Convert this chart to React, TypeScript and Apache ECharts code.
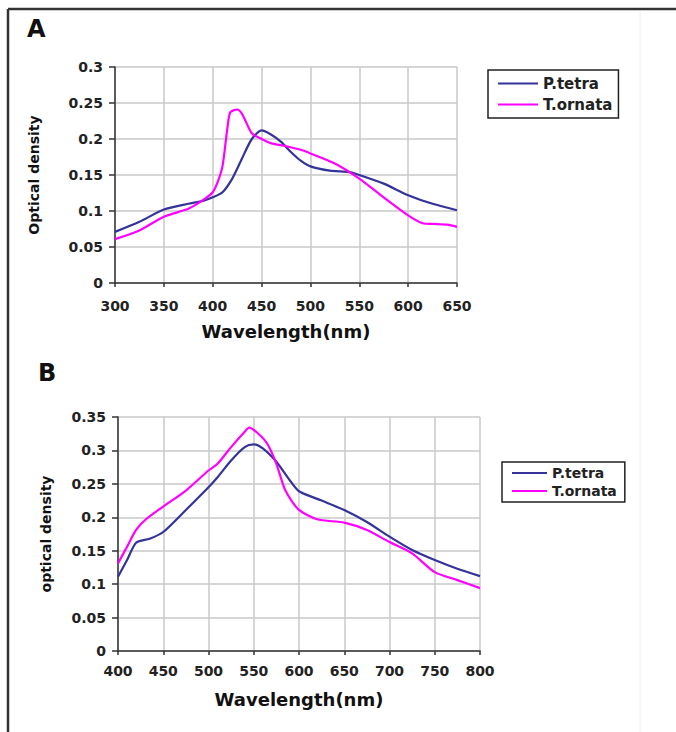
import React, { useEffect, useRef } from "react";
import * as echarts from "echarts";

// ---- Data ----
const seriesNames = ["P.tetra", "T.ornata"];

// Panel A
const aXTicks = [300, 350, 400, 450, 500, 550, 600, 650];
const aYTicks = [0, 0.05, 0.1, 0.15, 0.2, 0.25, 0.3];
const aPtetraWl = [300, 325, 350, 375, 390, 400, 410, 420, 430, 440, 450, 460, 470, 480, 490, 500, 520, 540, 550, 575, 600, 625, 650];
const aPtetraOD = [0.071, 0.085, 0.102, 0.110, 0.114, 0.119, 0.126, 0.145, 0.173, 0.200, 0.212, 0.206, 0.196, 0.182, 0.170, 0.162, 0.156, 0.154, 0.150, 0.138, 0.122, 0.110, 0.101];
const aTornataWl = [300, 325, 350, 375, 390, 400, 405, 410, 415, 418, 425, 430, 440, 450, 460, 475, 490, 500, 525, 550, 575, 600, 615, 625, 640, 650];
const aTornataOD = [0.061, 0.073, 0.092, 0.103, 0.115, 0.126, 0.140, 0.162, 0.215, 0.237, 0.241, 0.235, 0.208, 0.200, 0.194, 0.190, 0.185, 0.180, 0.166, 0.145, 0.119, 0.094, 0.083, 0.082, 0.081, 0.078];

// Panel B
const bXTicks = [400, 450, 500, 550, 600, 650, 700, 750, 800];
const bYTicks = [0, 0.05, 0.1, 0.15, 0.2, 0.25, 0.3, 0.35];
const bPtetraWl = [400, 410, 420, 435, 450, 475, 500, 510, 525, 540, 550, 560, 575, 590, 600, 625, 650, 675, 700, 725, 750, 775, 800];
const bPtetraOD = [0.111, 0.136, 0.162, 0.168, 0.178, 0.211, 0.245, 0.260, 0.285, 0.305, 0.309, 0.303, 0.283, 0.255, 0.239, 0.225, 0.211, 0.193, 0.171, 0.151, 0.136, 0.123, 0.112];
const bTornataWl = [400, 410, 420, 430, 450, 475, 500, 510, 525, 540, 545, 555, 565, 575, 585, 600, 620, 650, 675, 700, 725, 750, 775, 800];
const bTornataOD = [0.131, 0.156, 0.181, 0.196, 0.216, 0.240, 0.270, 0.280, 0.305, 0.328, 0.334, 0.325, 0.310, 0.280, 0.240, 0.211, 0.197, 0.192, 0.181, 0.163, 0.146, 0.118, 0.106, 0.094];

const BLUE = "#333399";
const MAGENTA = "#ff00ff";
const FONT = "DejaVu Sans";

const pairs = (xs: number[], ys: number[]) => xs.map((x, i) => [x, ys[i]]);
const fmt = (v: number) => (v === 0 ? "0" : String(Math.round(v * 100) / 100));

function makeX(gridIndex: number, ticks: number[], margin: number, nameGap: number) {
  return {
    type: "value",
    gridIndex,
    min: ticks[0],
    max: ticks[ticks.length - 1],
    interval: ticks[1] - ticks[0],
    name: "Wavelength(nm)",
    nameLocation: "middle",
    nameGap,
    nameTextStyle: { fontFamily: FONT, fontWeight: "bold", fontSize: 18, color: "#111" },
    axisLine: { show: true, onZero: false, lineStyle: { color: "#333", width: 1.5 } },
    axisTick: { show: true, length: 4, lineStyle: { color: "#333", width: 1.5 } },
    axisLabel: { margin, fontFamily: FONT, fontWeight: "bold", fontSize: 14, color: "#222", formatter: (v: number) => String(v) },
    splitLine: { show: true, lineStyle: { color: "#c8c8c8", width: 1.5 } },
  };
}

function makeY(gridIndex: number, ticks: number[], name: string, nameGap: number) {
  return {
    type: "value",
    gridIndex,
    min: ticks[0],
    max: ticks[ticks.length - 1],
    interval: ticks[1] - ticks[0],
    name,
    nameLocation: "middle",
    nameGap,
    nameRotate: 90,
    nameTextStyle: { fontFamily: FONT, fontWeight: "bold", fontSize: 14, color: "#111" },
    axisLine: { show: true, onZero: false, lineStyle: { color: "#333", width: 1.5 } },
    axisTick: { show: true, length: 6, lineStyle: { color: "#333", width: 1.5 } },
    axisLabel: { margin: 12, fontFamily: FONT, fontWeight: "bold", fontSize: 14, color: "#222", formatter: fmt },
    splitLine: { show: true, lineStyle: { color: "#c8c8c8", width: 1.5 } },
  };
}

function makeLine(name: string, data: number[][], color: string, idx: number) {
  return {
    type: "line",
    name,
    xAxisIndex: idx,
    yAxisIndex: idx,
    data,
    smooth: 0.25,
    showSymbol: false,
    symbol: "none",
    lineStyle: { color, width: 2.2 },
    itemStyle: { color },
  };
}

export default function App() {
  const ref = useRef<HTMLDivElement>(null);
  useEffect(() => {
    if (!ref.current) return;
    const chart = echarts.init(ref.current, null, { renderer: "svg" });
    const legendBase = {
      orient: "vertical",
      icon: "rect",
      itemHeight: 2,
      backgroundColor: "#fff",
      borderColor: "#222",
      borderWidth: 1.5,
      data: seriesNames,
      selectedMode: false,
    };
    chart.setOption({
      animation: false,
      backgroundColor: "#fff",
      grid: [
        { left: 115, top: 67, width: 342, height: 216 },
        { left: 118, top: 417, width: 362, height: 234 },
      ],
      xAxis: [makeX(0, aXTicks, 16, 39), makeX(1, bXTicks, 13, 39)],
      yAxis: [makeY(0, aYTicks, "Optical density", 74), makeY(1, bYTicks, "optical density", 65)],
      legend: [
        {
          ...legendBase,
          left: 488,
          top: 70,
          itemWidth: 40,
          itemGap: 6,
          padding: [6, 6, 6, 10],
          textStyle: { fontFamily: FONT, fontWeight: "bold", fontSize: 15, color: "#222" },
        },
        {
          ...legendBase,
          left: 502,
          top: 462,
          itemWidth: 35,
          itemGap: 4,
          padding: [4, 8, 4, 10],
          textStyle: { fontFamily: FONT, fontWeight: "bold", fontSize: 14, color: "#222" },
        },
      ],
      series: [
        makeLine(seriesNames[0], pairs(aPtetraWl, aPtetraOD), BLUE, 0),
        makeLine(seriesNames[1], pairs(aTornataWl, aTornataOD), MAGENTA, 0),
        makeLine(seriesNames[0], pairs(bPtetraWl, bPtetraOD), BLUE, 1),
        makeLine(seriesNames[1], pairs(bTornataWl, bTornataOD), MAGENTA, 1),
      ],
      graphic: [
        { type: "line", shape: { x1: 8, y1: 9, x2: 676, y2: 9 }, style: { stroke: "#333", lineWidth: 2.5 } },
        { type: "line", shape: { x1: 8, y1: 9, x2: 8, y2: 732 }, style: { stroke: "#333", lineWidth: 2.5 } },
        { type: "line", shape: { x1: 640, y1: 11, x2: 640, y2: 732 }, style: { stroke: "#f0f0f0", lineWidth: 1 } },
        { type: "text", left: 27, top: 17, style: { text: "A", fontFamily: FONT, fontWeight: "bold", fontSize: 24, fill: "#111" } },
        { type: "text", left: 38, top: 361, style: { text: "B", fontFamily: FONT, fontWeight: "bold", fontSize: 24, fill: "#111" } },
      ],
    });
    return () => chart.dispose();
  }, []);
  return <div ref={ref} style={{ position: "fixed", left: 0, top: 0, width: 676, height: 732 }} />;
}
